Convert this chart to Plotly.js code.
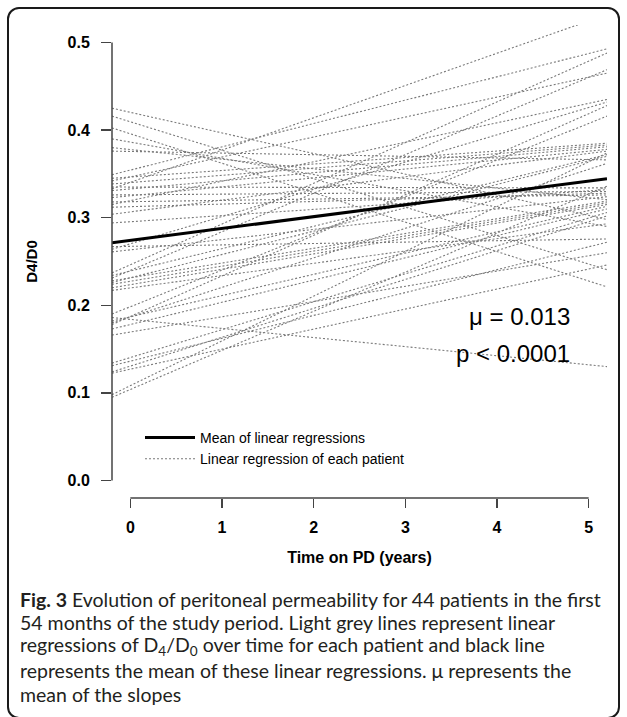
<!DOCTYPE html>
<html>
<head>
<meta charset="utf-8">
<script src="https://cdn.plot.ly/plotly-3.0.1.min.js"></script>
<style>
  html, body { margin: 0; padding: 0; background: #ffffff; }
  #wrap { position: relative; width: 627px; height: 717px; overflow: hidden; }
  #frame { position: absolute; left: 7px; top: 7px; width: 613px; height: 712px;
           border: 2px solid #1a1a1a; border-radius: 12px; box-sizing: border-box; }
  #chart { position: absolute; left: 0; top: 0; width: 627px; height: 717px; }
</style>
</head>
<body>
<div id="wrap">
  <div id="frame"></div>
  <div id="chart"></div>
</div>
<script>
// Time span covered by each drawn regression line (years on PD)
const timeStart = -0.2;
const timeEnd = 5.2;

// D4/D0 of each patient's regression line at the start and at the end of the span
const patientStart = [0.425, 0.416, 0.4025, 0.390, 0.380, 0.376, 0.349, 0.345, 0.342, 0.3385,
  0.335, 0.333, 0.331, 0.326, 0.323, 0.318, 0.315, 0.312, 0.304, 0.294,
  0.267, 0.264, 0.261, 0.237, 0.234, 0.231, 0.228, 0.226, 0.224, 0.220,
  0.217, 0.190, 0.186, 0.182, 0.180, 0.178, 0.173, 0.166, 0.134, 0.131,
  0.124, 0.1225, 0.098, 0.095];
const patientEnd = [0.298, 0.2406, 0.221, 0.290, 0.3206, 0.366, 0.4928, 0.385, 0.465, 0.383,
  0.334, 0.532, 0.381, 0.330, 0.378, 0.326, 0.435, 0.328, 0.376, 0.332,
  0.2757, 0.432, 0.324, 0.488, 0.372, 0.469, 0.319, 0.370, 0.317, 0.315,
  0.293, 0.416, 0.130, 0.313, 0.362, 0.428, 0.310, 0.260, 0.306, 0.272,
  0.302, 0.246, 0.374, 0.336];

// Mean of the linear regressions
const meanStart = 0.2714;
const meanEnd = 0.3446;

// Axis ticks
const xTicks = [0, 1, 2, 3, 4, 5];
const yTicks = [0.0, 0.1, 0.2, 0.3, 0.4, 0.5];
const yTickText = ['0.0', '0.1', '0.2', '0.3', '0.4', '0.5'];

const statLines = ['\u03bc = 0.013', 'p < 0.0001'];
const captionLines = [
  '<b>Fig. 3</b> Evolution of peritoneal permeability for 44 patients in the first',
  '54 months of the study period. Light grey lines represent linear',
  'regressions of D<sub>4</sub>/D<sub>0</sub> over time for each patient and black line',
  'represents the mean of these linear regressions. \u03bc represents the',
  'mean of the slopes'
];

const traces = [];
for (let i = 0; i < patientStart.length; i++) {
  traces.push({
    x: [timeStart, timeEnd],
    y: [patientStart[i], patientEnd[i]],
    mode: 'lines',
    type: 'scatter',
    line: { color: '#7a7a7a', width: 1.1, dash: '2px,2px' },
    name: 'Linear regression of each patient',
    showlegend: i === 0,
    legendrank: 2,
    hoverinfo: 'skip'
  });
}
traces.push({
  x: [timeStart, timeEnd],
  y: [meanStart, meanEnd],
  mode: 'lines',
  type: 'scatter',
  line: { color: '#000000', width: 3 },
  name: 'Mean of linear regressions',
  legendrank: 1,
  hoverinfo: 'skip'
});

const L = 112, R = 20, T = 25, B = 219;
const W = 627, H = 717;
const pw = W - L - R, ph = H - T - B;
const px2x = p => (p - L) / pw;
const py2y = p => (H - B - p) / ph;

const annotations = [
  { text: statLines[0], xref: 'paper', yref: 'paper', x: px2x(572), y: py2y(316),
    xanchor: 'right', yanchor: 'middle', showarrow: false,
    font: { family: 'Liberation Sans, Arial, sans-serif', size: 24, color: '#000' } },
  { text: statLines[1], xref: 'paper', yref: 'paper', x: px2x(572), y: py2y(353),
    xanchor: 'right', yanchor: 'middle', showarrow: false,
    font: { family: 'Liberation Sans, Arial, sans-serif', size: 24, color: '#000' } }
];
const capY = [599, 622, 646, 670, 694];
captionLines.forEach((t, i) => {
  annotations.push({ text: t, xref: 'paper', yref: 'paper', x: px2x(18), y: py2y(capY[i]),
    xanchor: 'left', yanchor: 'middle', showarrow: false, align: 'left',
    font: { family: 'Lato, Noto Sans, sans-serif', size: 19.5, color: '#231f20' } });
});

const layout = {
  width: W, height: H,
  margin: { l: L, r: R, t: T, b: B },
  paper_bgcolor: 'rgba(0,0,0,0)',
  plot_bgcolor: 'rgba(0,0,0,0)',
  showlegend: true,
  legend: {
    x: px2x(140), y: py2y(422), xanchor: 'left', yanchor: 'top',
    bgcolor: 'rgba(0,0,0,0)', borderwidth: 0, itemwidth: 50,
    font: { family: 'Liberation Sans, Arial, sans-serif', size: 14, color: '#000' },
    tracegroupgap: 0
  },
  xaxis: {
    range: [timeStart, timeEnd], showgrid: false, zeroline: false, showline: false,
    tickvals: xTicks, ticktext: xTicks.map(String), ticks: 'outside', ticklen: 9, tickwidth: 1.5, tickcolor: '#444',
    ticklabelstandoff: 6,
    tickfont: { family: 'Liberation Sans, Arial, sans-serif', size: 16, weight: 'bold', color: '#000' },
    title: { text: 'Time on PD (years)', standoff: 16,
      font: { family: 'Liberation Sans, Arial, sans-serif', size: 16, weight: 'bold', color: '#000' } },
    fixedrange: true
  },
  yaxis: {
    range: [-0.02, 0.52], showgrid: false, zeroline: false, showline: false,
    tickvals: yTicks, ticktext: yTickText, ticks: 'outside', ticklen: 10, tickwidth: 1.5, tickcolor: '#444',
    ticklabelstandoff: 8,
    tickfont: { family: 'Liberation Sans, Arial, sans-serif', size: 16, weight: 'bold', color: '#000' },
    title: { text: 'D4/D0', standoff: 26,
      font: { family: 'Liberation Sans, Arial, sans-serif', size: 15, weight: 'bold', color: '#000' } },
    fixedrange: true
  },
  shapes: [
    { type: 'line', xref: 'paper', yref: 'y', x0: 0, x1: 0, y0: yTicks[0], y1: yTicks[yTicks.length - 1],
      line: { color: '#444', width: 1.5 } },
    { type: 'line', xref: 'x', yref: 'paper', x0: xTicks[0], x1: xTicks[xTicks.length - 1], y0: 0, y1: 0,
      line: { color: '#444', width: 1.5 } }
  ],
  annotations: annotations
};

Plotly.newPlot('chart', traces, layout, { staticPlot: true, displayModeBar: false });
</script>
</body>
</html>
